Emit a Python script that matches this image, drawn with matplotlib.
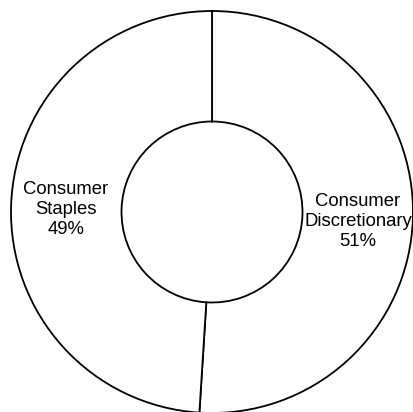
import numpy as np
import matplotlib
matplotlib.use("Agg")
import matplotlib.pyplot as plt

# données
secteurs = ["Consumer\nDiscretionary", "Consumer\nStaples"]
parts = [51, 49]

plt.rcParams['font.family'] = ['Liberation Sans', 'DejaVu Sans']

fig = plt.figure(figsize=(4.14, 4.12), dpi=100)
ax = fig.add_axes([0, 0, 1, 1])

# unités = pixels, centre du donut en (212, 212) depuis le coin haut gauche
R = 201
r_int = 90.5
wedges, _ = ax.pie(parts, radius=R, startangle=90, counterclock=False,
                   colors=["white", "white"],
                   wedgeprops=dict(width=R - r_int, edgecolor="black", linewidth=1.3))

# étiquettes au milieu de chaque secteur (petit décalage vertical comme l'original)
dist = 0.727 * R
decalage = [-5, -2]
for w, nom, p, dy in zip(wedges, secteurs, parts, decalage):
    a = np.deg2rad((w.theta1 + w.theta2) / 2)
    ax.text(dist * np.cos(a), dist * np.sin(a) + dy, nom + "\n" + str(p) + "%",
            ha="center", va="center", fontsize=13.3, color="black",
            linespacing=1.25)

ax.set_xlim(-212, 202)
ax.set_ylim(-200, 212)
ax.set_aspect("equal")
ax.axis("off")

fig.savefig("out.png", dpi=100)
